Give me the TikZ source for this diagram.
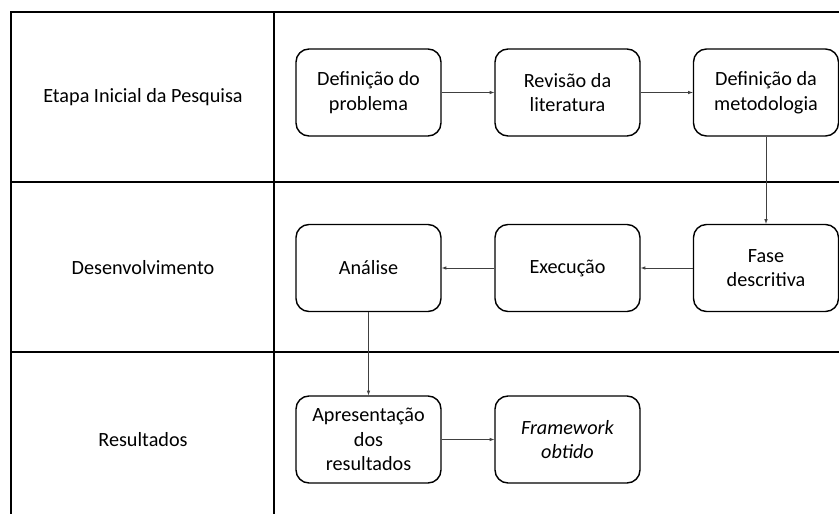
\documentclass[tikz,border=0pt]{standalone}
\usepackage{fontspec}
\setmainfont{Carlito}
\tikzset{
  etapa/.style={draw, line width=1.4pt, rounded corners=13pt, minimum width=145pt, minimum height=87pt, align=center, inner sep=2pt},
  lane/.style={align=center},
  seta/.style={-latex, line width=0.6pt, black!75}
}
\begin{document}
\begin{tikzpicture}[x=1pt, y=-1pt, font=\fontsize{20.2}{24.5}\selectfont]
		\useasboundingbox (0,0) rectangle (839,514);
		\clip (0,0) rectangle (839,514);
		% quadro das raias
		\draw [line width=1.4pt] (860,12) -- (11,12) -- (11,540);
		\draw [line width=1.4pt] (274,12) -- (274,540);
		\draw [line width=1.4pt] (11,182) -- (860,182);
		\draw [line width=1.4pt] (11,352) -- (860,352);
		\node[lane] (l1) at (143,97) {Etapa Inicial da Pesquisa};
		\node[lane] (l2) at (143,268) {Desenvolvimento};
		\node[lane] (l3) at (143,440) {Resultados};
		% etapas
		\node[etapa] (e1) at (368.5,92.5) {Definição do\\problema};
		\node[etapa] (e2) at (567.5,92.5) {Revisão da\\literatura};
		\node[etapa] (e3) at (766,92.5) {Definição da\\metodologia};
		\node[etapa] (e4) at (766,268) {Fase\\descritiva};
		\node[etapa] (e5) at (567.5,268) {Execução};
		\node[etapa] (e6) at (368.5,268) {Análise};
		\node[etapa] (e7) at (368.5,439.5) {Apresentação\\dos\\resultados};
		\node[etapa] (e8) at (567.5,439.5) {\textit{Framework}\\\textit{obtido}};
		\draw [seta] (e1) edge (e2);
		\draw [seta] (e2) edge (e3);
		\draw [seta] (e3) edge (e4);
		\draw [seta] (e4) edge (e5);
		\draw [seta] (e5) edge (e6);
		\draw [seta] (e6) edge (e7);
		\draw [seta] (e7) edge (e8);
\end{tikzpicture}
\end{document}
